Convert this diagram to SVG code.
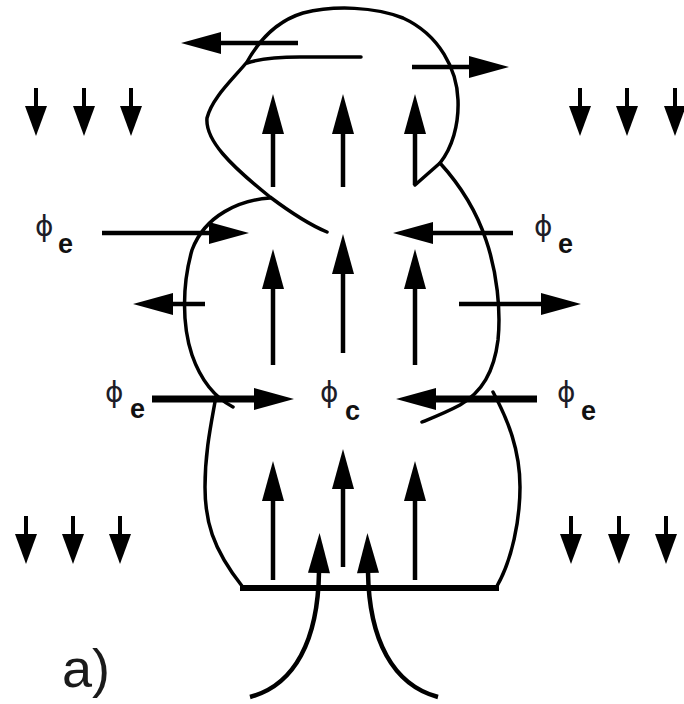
<svg xmlns="http://www.w3.org/2000/svg" width="684" height="704" viewBox="0 0 684 704">
  <style>
    .curve { fill: none; stroke: #000; stroke-width: 3.5; stroke-linecap: round; stroke-linejoin: round; }
    .arr { fill: none; stroke: #000; stroke-width: 4.5; marker-end: url(#ah); }
    .arr-thick { fill: none; stroke: #000; stroke-width: 7; marker-end: url(#ah); }
    .down { fill: none; stroke: #000; stroke-width: 4; marker-end: url(#ahs); }
    .phi { font-family: "DejaVu Sans", "Liberation Sans", sans-serif; font-size: 28px; fill: #1d1d28; }
    .sub { font-family: "Liberation Sans", Arial, sans-serif; font-weight: bold; font-size: 27px; fill: #111; }
    .tag { font-family: "Liberation Sans", Arial, sans-serif; font-size: 54px; fill: #1a1a1a; }
  </style>
  <defs>
    <marker id="ah" markerUnits="userSpaceOnUse" viewBox="0 -12 42 24" markerWidth="42" markerHeight="24" refX="1" refY="0" orient="auto" overflow="visible">
      <path d="M0,-11 L40,0 L0,11 z" fill="#000"/>
    </marker>
    <marker id="ahs" markerUnits="userSpaceOnUse" viewBox="0 -12 32 24" markerWidth="32" markerHeight="24" refX="1" refY="0" orient="auto" overflow="visible">
      <path d="M0,-11 L30,0 L0,11 z" fill="#000"/>
    </marker>
  </defs>

  <rect width="684" height="704" fill="#fff"/>

  <!-- twisted flux rope outline -->
  <g id="rope">
    <!-- upper loop running into the left S-bend -->
    <path class="curve" d="M415,185 L440,163 C452,148 459,125 458,100 C457,70 440,35 403,18 C375,7 335,5 303,13 C280,20 262,35 247,62 C232,80 212,98 207,118 C205,140 230,165 270,197 C290,212 310,225 327,232"/>
    <path class="curve" d="M361,57 L300,57 C280,57 262,58 247,63"/>
    <!-- left side of the middle loop -->
    <path class="curve" d="M270,198 C240,200 205,215 192,250 C182,285 182,325 192,355 C200,378 212,396 233,407"/>
    <!-- right side sweeping down -->
    <path class="curve" d="M440,163 C460,185 476,210 486,240 C497,272 501,310 498,340 C494,372 482,392 460,405 C445,413 432,418 422,422"/>
    <!-- lower envelope -->
    <path class="curve" d="M216,396 C212,420 205,450 205,487 C205,520 212,548 242,586"/>
    <path class="curve" d="M497,586 C512,560 520,520 520,487 C520,450 508,420 493,392"/>
    <line x1="240" y1="588" x2="499" y2="588" stroke="#000" stroke-width="6"/>
  </g>

  <!-- axial field arrows -->
  <g id="axial">
    <path class="arr" d="M273,187 L273,133"/>
    <path class="arr" d="M343,187 L343,133"/>
    <path class="arr" d="M415,185 L415,133"/>
    <path class="arr" d="M273,365 L273,288"/>
    <path class="arr" d="M343,353 L343,273"/>
    <path class="arr" d="M415,365 L415,288"/>
    <path class="arr" d="M273,580 L273,500"/>
    <path class="arr" d="M343,567 L343,488"/>
    <path class="arr" d="M415,580 L415,500"/>
    <path class="arr" d="M250,697 C295,685 318,640 319,572"/>
    <path class="arr" d="M438,697 C393,685 369,640 368,572"/>
  </g>

  <!-- transverse arrows -->
  <g id="transverse">
    <path class="arr" d="M298,43 L220,43"/>
    <path class="arr" d="M412,67 L470,67"/>
    <path class="arr" d="M102,233 L210,233"/>
    <path class="arr" d="M513,233 L432,233"/>
    <path class="arr" d="M205,304 L172,304"/>
    <path class="arr" d="M459,304 L542,304"/>
    <path class="arr-thick" d="M152,399 L255,399"/>
    <path class="arr-thick" d="M537,399 L435,399"/>
  </g>

  <!-- ambient downward field -->
  <g id="ambient">
    <path class="down" d="M36,88 L36,107"/>
    <path class="down" d="M84,88 L84,107"/>
    <path class="down" d="M131,88 L131,107"/>
    <path class="down" d="M580,88 L580,107"/>
    <path class="down" d="M627,88 L627,107"/>
    <path class="down" d="M675,88 L675,107"/>
    <path class="down" d="M26,516 L26,535"/>
    <path class="down" d="M73,516 L73,535"/>
    <path class="down" d="M120,516 L120,535"/>
    <path class="down" d="M571,516 L571,535"/>
    <path class="down" d="M619,516 L619,535"/>
    <path class="down" d="M666,516 L666,535"/>
  </g>

  <!-- labels -->
  <g id="labels">
    <text x="35" y="236" class="phi">ϕ</text><text x="58" y="253" class="sub">e</text>
    <text x="534" y="236" class="phi">ϕ</text><text x="558" y="253" class="sub">e</text>
    <text x="105" y="402" class="phi">ϕ</text><text x="130" y="418" class="sub">e</text>
    <text x="320" y="402" class="phi">ϕ</text><text x="345" y="420" class="sub">c</text>
    <text x="557" y="402" class="phi">ϕ</text><text x="581" y="420" class="sub">e</text>
    <text x="62" y="687" class="tag">a)</text>
  </g>
</svg>
